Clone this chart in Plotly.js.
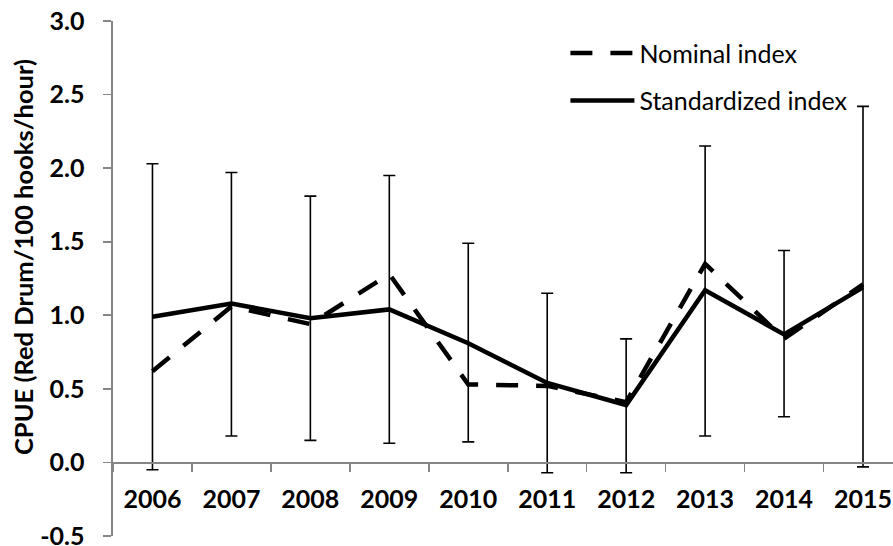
<!DOCTYPE html>
<html>
<head>
<meta charset="utf-8">
<script src="https://cdn.plot.ly/plotly-3.0.1.min.js"></script>
<style>html,body{margin:0;padding:0;background:#fff;}#chart{width:893px;height:546px;}</style>
</head>
<body>
<div id="chart"></div>
<script>
const years = ['2006','2007','2008','2009','2010','2011','2012','2013','2014','2015'];
const nominal = [0.62, 1.06, 0.94, 1.28, 0.53, 0.52, 0.41, 1.35, 0.84, 1.21];
const standardized = [0.99, 1.08, 0.98, 1.04, 0.81, 0.54, 0.39, 1.17, 0.87, 1.19];
const upperCI = [2.03, 1.97, 1.81, 1.95, 1.49, 1.15, 0.84, 2.15, 1.44, 2.42];
const lowerCI = [-0.05, 0.18, 0.15, 0.13, 0.14, -0.07, -0.07, 0.18, 0.31, -0.03];
const yTicks = [-0.5, 0, 0.5, 1.0, 1.5, 2.0, 2.5, 3.0];
const yTickText = yTicks.map(v => v.toFixed(1));
const yTitle = 'CPUE (Red Drum/100 hooks/hour)';

const errPlus = upperCI.map((u, i) => u - standardized[i]);
const errMinus = lowerCI.map((l, i) => standardized[i] - l);

const traces = [
  {
    x: years, y: nominal, type: 'scatter', mode: 'lines', name: 'Nominal index',
    legendgroup: 'nom',
    line: {color: '#000', width: 4.5, dash: '22px,18px'}
  },
  {
    x: years, y: standardized, type: 'scatter', mode: 'lines', name: 'Standardized index',
    legendgroup: 'std',
    line: {color: '#000', width: 4.5},
    error_y: {type: 'data', symmetric: false, array: errPlus, arrayminus: errMinus,
              color: '#000', thickness: 1.6, width: 6}
  }
];

const tickFont = {family: 'Lato, sans-serif', size: 25, color: '#000', weight: 'bold'};

const layout = {
  width: 893, height: 546,
  margin: {l: 112.5, r: 0, t: 21, b: 10, pad: 0},
  paper_bgcolor: '#fff', plot_bgcolor: 'rgba(0,0,0,0)',
  font: {family: 'Lato, sans-serif', color: '#000'},
  showlegend: true,
  legend: {x: 0.58, y: 0.982, xanchor: 'left', yanchor: 'top', bgcolor: 'rgba(0,0,0,0)',
           font: {family: 'Lato, sans-serif', size: 25, color: '#000'},
           itemwidth: 64, tracegroupgap: 12},
  xaxis: {
    type: 'category', range: [-0.5, 9.38], anchor: 'free', position: 0.5/3.5,
    showline: true, linecolor: '#868686', linewidth: 1.6,
    ticks: 'outside', tickson: 'boundaries', ticklen: 8, tickwidth: 1.6, tickcolor: '#868686',
    showgrid: false, zeroline: false,
    tickfont: tickFont,
    ticklabelstandoff: 14
  },
  yaxis: {
    range: [-0.5, 3.0], tickvals: yTicks, ticktext: yTickText,
    showline: true, linecolor: '#868686', linewidth: 1.6,
    ticks: 'outside', ticklen: 8, tickwidth: 1.6, tickcolor: '#868686',
    showgrid: false, zeroline: false,
    tickfont: tickFont, ticklabeloverflow: 'allow',
    ticklabelstandoff: 14
  },
  annotations: [{
    text: yTitle, xref: 'paper', yref: 'paper', x: 0, y: 0.5417,
    xanchor: 'center', yanchor: 'middle', xshift: -90, textangle: -90, showarrow: false,
    font: {family: 'Lato, sans-serif', size: 25.5, color: '#000', weight: 'bold'}
  }]
};

Plotly.newPlot('chart', traces, layout, {displayModeBar: false, staticPlot: true});
</script>
</body>
</html>
